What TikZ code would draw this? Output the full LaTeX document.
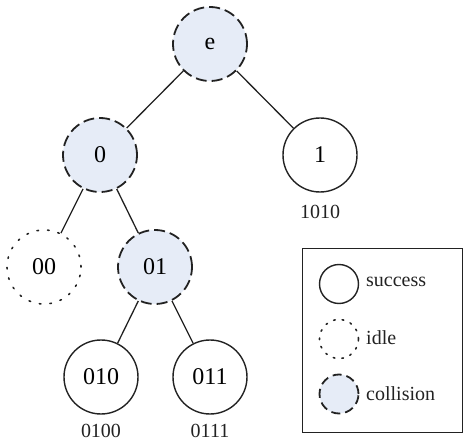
\documentclass[tikz,border=0pt]{standalone}
\usepackage{fontspec}
\setmainfont{Liberation Serif}
\definecolor{collfill}{HTML}{E6ECF7}
\definecolor{ink}{HTML}{222222}
\begin{document}
\begin{tikzpicture}[x=1pt,y=-1pt,
  every node/.style={inner sep=0pt},
  base/.style={circle,minimum size=74pt,line width=1.4pt,draw=ink,font=\fontsize{24}{26}\selectfont},
  succ/.style={base},
  idl/.style={base,line width=1.6pt,dash pattern=on 1.6pt off 9pt,line cap=round},
  coll/.style={base,line width=1.8pt,fill=collfill,dash pattern=on 11pt off 5pt},
  lsucc/.style={succ,minimum size=39pt},
  lidl/.style={idl,minimum size=39pt,dash pattern=on 1.6pt off 7pt},
  lcoll/.style={coll,minimum size=39pt,dash pattern=on 9pt off 5pt},
  lbl/.style={font=\fontsize{20}{22}\selectfont,text=ink},
  edge/.style={line width=1.3pt,draw=ink}]
\useasboundingbox (0,0) rectangle (464,441);
\node[coll] (e) at (210,44) {e};
\node[coll] (n0) at (100,155) {0};
\node[succ] (n1) at (320,155) {1};
\node[idl] (n00) at (44,267) {00};
\node[coll] (n01) at (155,267) {01};
\node[succ] (n010) at (101,377) {010};
\node[succ] (n011) at (210,377) {011};
\node[lbl] (l1) at (320,212) {1010};
\node[lbl] (l010) at (101,431) {0100};
\node[lbl] (l011) at (210,431) {0111};
\draw[edge] (e) -- (n0);
\draw[edge] (e) -- (n1);
\draw[edge] (n0) -- (n00);
\draw[edge] (n0) -- (n01);
\draw[edge] (n01) -- (n010);
\draw[edge] (n01) -- (n011);
\node[draw=ink,line width=1.4pt,minimum width=160pt,minimum height=184pt,anchor=north west] (legend) at (302,248) {};
\node[lsucc] (ls) at (339,284) {};
\node[lidl] (li) at (339,339) {};
\node[lcoll] (lc) at (339,394) {};
\node[lbl,anchor=west] (ts) at (366,282) {success};
\node[lbl,anchor=west] (ti) at (366,338) {idle};
\node[lbl,anchor=west] (tc) at (366,394) {collision};
\end{tikzpicture}
\end{document}
